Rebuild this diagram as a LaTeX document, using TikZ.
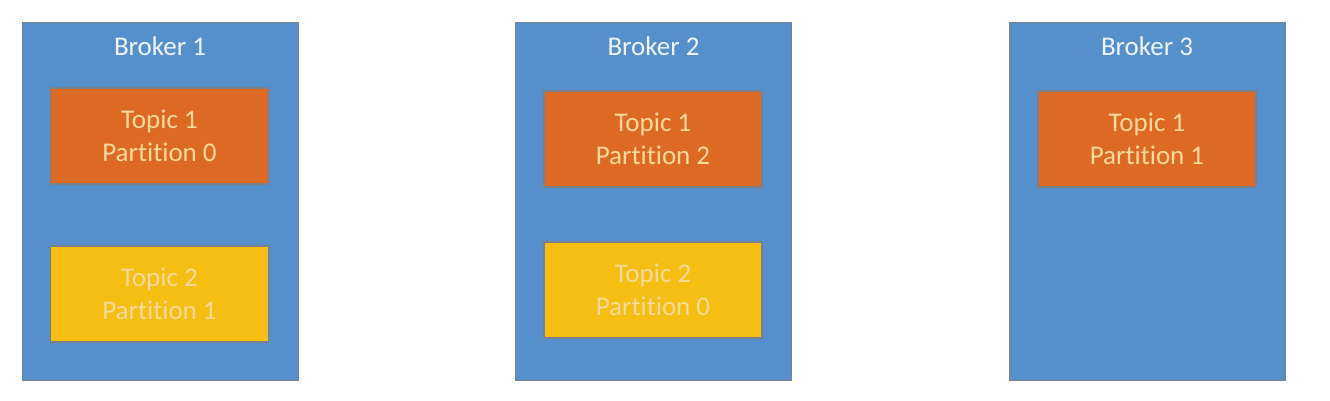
\documentclass[tikz,border=0pt]{standalone}
\usepackage{fontspec}
\setmainfont[Ligatures=NoCommon]{Carlito}
\definecolor{brokerblue}{HTML}{5590CC}
\definecolor{topicorange}{HTML}{DD6A24}
\definecolor{topicyellow}{HTML}{F5BE12}
\definecolor{edgegray}{HTML}{7A8088}
\definecolor{topictext}{HTML}{F8D99C}
\definecolor{brokertext}{HTML}{F0F4F8}
\tikzset{
  broker/.style={draw=edgegray, line width=0.8pt, fill=brokerblue, minimum width=276pt, minimum height=358pt, inner sep=0pt},
  topicbox/.style={draw=edgegray, line width=1.2pt, minimum width=218pt, minimum height=96pt, inner sep=0pt,
    align=center, text=topictext, font=\fontsize{27pt}{33pt}\selectfont},
  t1/.style={topicbox, fill=topicorange},
  t2/.style={topicbox, fill=topicyellow},
  blabel/.style={text=brokertext, font=\fontsize{27pt}{33pt}\selectfont, anchor=base, inner sep=0pt}
}
\begin{document}
\begin{tikzpicture}[x=1pt,y=-1pt]
\useasboundingbox (0,0) rectangle (1330,400);
\node[broker] (b1) at (160,201) {};
\node[broker] (b2) at (653.5,201) {};
\node[broker] (b3) at (1147,201) {};
\node[blabel] (l1) at (160,55) {Broker 1};
\node[blabel] (l2) at (653.5,55) {Broker 2};
\node[blabel] (l3) at (1147,55) {Broker 3};
\node[t1] (b1t1) at (159.5,136) {Topic 1\\Partition 0};
\node[t2] (b1t2) at (159.5,294) {Topic 2\\Partition 1};
\node[t1] (b2t1) at (653,139) {Topic 1\\Partition 2};
\node[t2] (b2t2) at (653,290) {Topic 2\\Partition 0};
\node[t1] (b3t1) at (1147,139) {Topic 1\\Partition 1};
\end{tikzpicture}
\end{document}
